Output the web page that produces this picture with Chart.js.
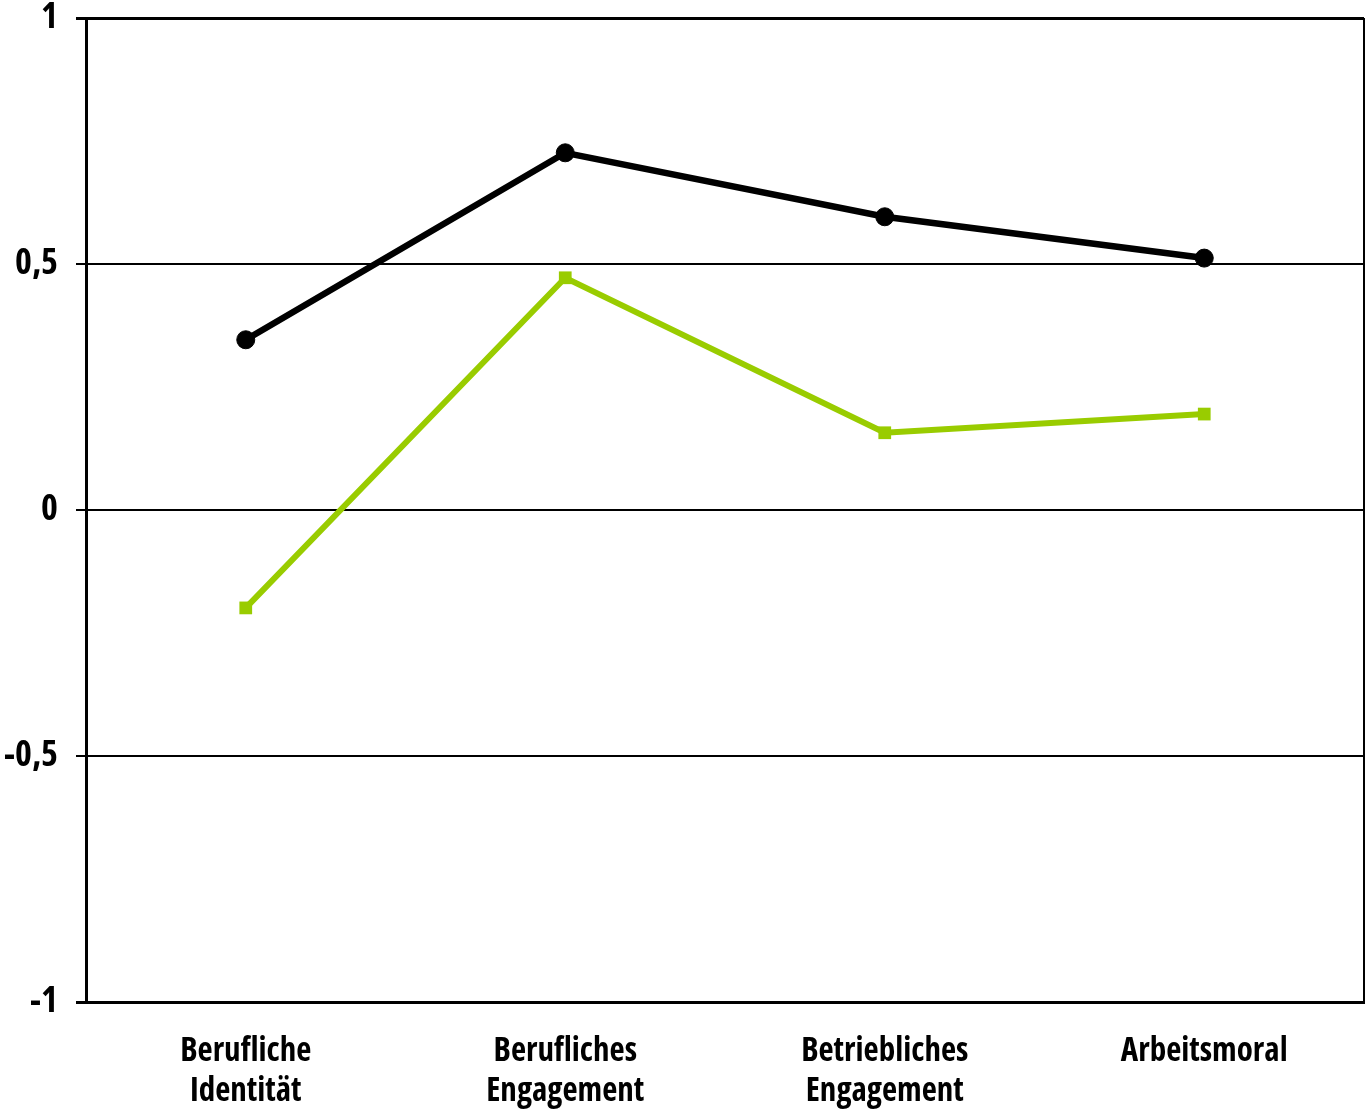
<!DOCTYPE html>
<html>
<head>
<meta charset="utf-8">
<script src="https://cdn.jsdelivr.net/npm/chart.js@4/dist/chart.umd.min.js"></script>
<style>
  html, body { margin: 0; padding: 0; background: #fff; overflow: hidden; }
  #wrap { width: 1367px; height: 1111px; }
  canvas { display: block; }
</style>
</head>
<body>
<div id="wrap"><canvas id="chart" width="1367" height="1111"></canvas></div>
<script>
const categories = [
  ['Berufliche', 'Identität'],
  ['Berufliches', 'Engagement'],
  ['Betriebliches', 'Engagement'],
  ['Arbeitsmoral'],
];
const blackSeries = [0.346, 0.726, 0.596, 0.512];
const greenSeries = [-0.199, 0.472, 0.157, 0.195];
const yTickLabels = { '1': '1', '0.5': '0,5', '0': '0', '-0.5': '-0,5', '-1': '-1' };

// Open Sans is a variable font here, so "condensed" gives a narrow face
const FONT = "'Open Sans', 'Liberation Sans', sans-serif";

// draw the thin right border of the plot box
const frameBorder = {
  id: 'frameBorder',
  afterDraw(chart) {
    const { ctx, chartArea } = chart;
    ctx.save();
    ctx.strokeStyle = '#000';
    ctx.lineWidth = 2;
    ctx.beginPath();
    ctx.moveTo(chartArea.right, chartArea.top);
    ctx.lineTo(chartArea.right, chartArea.bottom);
    ctx.stroke();
    ctx.restore();
  },
};

new Chart(document.getElementById('chart').getContext('2d'), {
  type: 'line',
  data: {
    labels: categories,
    datasets: [
      {
        label: 'Serie 1',
        data: blackSeries,
        borderColor: '#000000',
        backgroundColor: '#000000',
        borderWidth: 6.5,
        pointStyle: 'circle',
        pointRadius: 9,
        pointHoverRadius: 9,
        pointBorderWidth: 1,
        tension: 0,
      },
      {
        label: 'Serie 2',
        data: greenSeries,
        borderColor: '#99cc00',
        backgroundColor: '#99cc00',
        borderWidth: 6,
        pointStyle: 'rect',
        pointRadius: 9,
        pointHoverRadius: 9,
        pointBorderWidth: 0,
        tension: 0,
      },
    ],
  },
  options: {
    responsive: false,
    animation: false,
    layout: { autoPadding: false, padding: { top: 18, right: 3, left: 0, bottom: 0 } },
    plugins: {
      legend: { display: false },
      tooltip: { enabled: false },
    },
    scales: {
      x: {
        offset: true,
        grid: { display: false, drawTicks: false },
        border: { display: true, color: '#000', width: 3 },
        ticks: {
          color: '#000',
          padding: 30,
          maxRotation: 0,
          autoSkip: false,
          font: { family: FONT, size: 33, weight: 'bold condensed', lineHeight: 1.2 },
        },
        afterFit: (scale) => {
          scale.height = 109;
          scale.paddingLeft = 0;
          scale.paddingRight = 0;
        },
      },
      y: {
        min: -1,
        max: 1,
        grid: {
          color: '#000',
          lineWidth: (c) => (c.tick && (c.tick.value === 1 || c.tick.value === -1) ? 3 : 2),
          drawTicks: true,
          tickLength: 10,
        },
        border: { display: true, color: '#000', width: 3 },
        ticks: {
          stepSize: 0.5,
          color: '#000',
          padding: 18,
          font: { family: FONT, size: 36, weight: 'bold condensed' },
          callback: (v) => yTickLabels[String(v)] ?? '',
        },
        afterFit: (scale) => {
          scale.width = 86;
          scale.paddingTop = 0;
          scale.paddingBottom = 0;
        },
      },
    },
  },
  plugins: [frameBorder],
});
</script>
</body>
</html>
